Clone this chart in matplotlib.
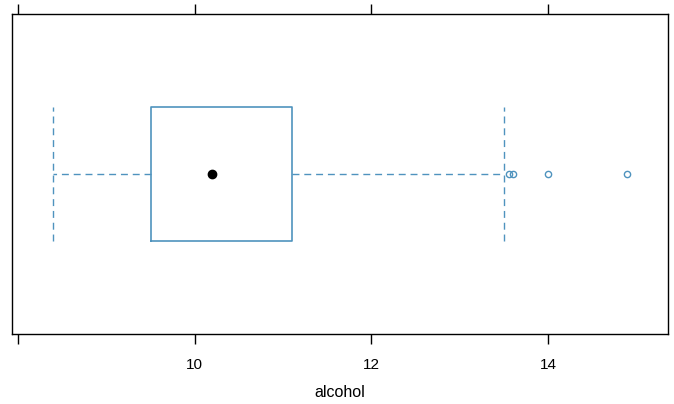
import matplotlib.pyplot as plt

# summary of alcohol (lattice bwplot)
whisker_low = 8.4
q1 = 9.5
median = 10.2
q3 = 11.1
whisker_high = 13.5
outliers = [13.56, 13.6, 14.0, 14.9]

tick_vals = [8, 10, 12, 14]
tick_labels = ['', '10', '12', '14']

blue = '#4f93be'

plt.rcParams['font.family'] = ['Liberation Sans', 'DejaVu Sans']

fig = plt.figure(figsize=(6.74, 4.04), dpi=100)
ax = fig.add_axes([0.0178, 0.1733, 0.9733, 0.792])

stats = [dict(whislo=whisker_low, q1=q1, med=median, q3=q3, whishi=whisker_high,
              fliers=outliers)]
ax.bxp(stats, positions=[1], widths=0.5, capwidths=[0.5], orientation='horizontal',
       boxprops=dict(color=blue, lw=1.2),
       whiskerprops=dict(color=blue, lw=1.0, ls=(0, (5, 3.5))),
       capprops=dict(color=blue, lw=1.0, ls=(0, (5, 3.5))),
       medianprops=dict(visible=False),
       flierprops=dict(marker='o', markersize=4.5, markerfacecolor='none',
                       markeredgecolor=blue, markeredgewidth=1.0))
ax.plot([median], [1], 'o', color='black', markersize=6)

ax.set_xlim(7.93, 15.36)
ax.set_ylim(0.4, 1.6)
ax.set_yticks([])
ax.set_xticks(tick_vals)
ax.set_xticklabels(tick_labels, fontsize=11)
ax.tick_params(axis='x', top=True, bottom=True, direction='out', length=7.5,
               width=1.0, pad=10)
for s in ax.spines.values():
    s.set_linewidth(1.0)
ax.set_xlabel('alcohol', fontsize=11.5, labelpad=9)

fig.savefig('out.png', dpi=100)
